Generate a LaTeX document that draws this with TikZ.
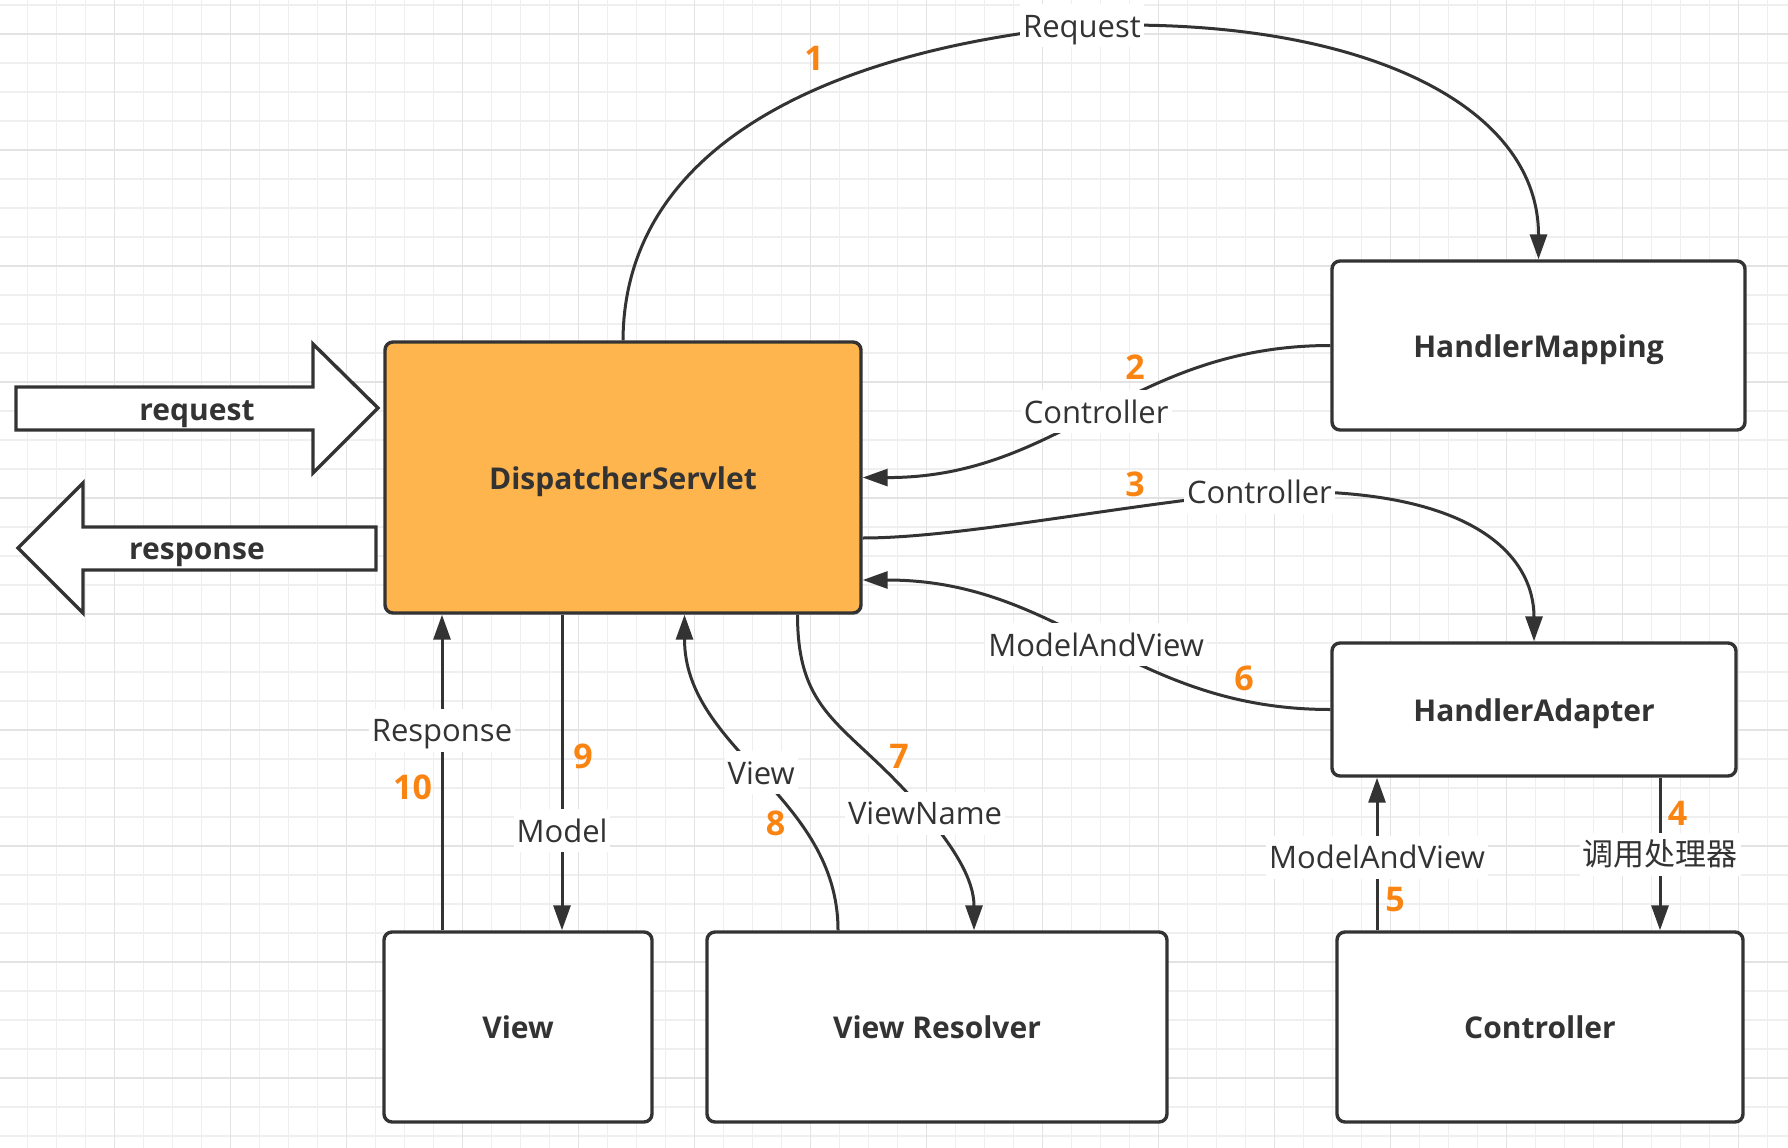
\documentclass[tikz,border=0pt]{standalone}
\usepackage{fontspec}
\setmainfont{Open Sans}
\newfontfamily\cjk{Noto Sans CJK SC}
\usetikzlibrary{arrows.meta,calc}
\definecolor{lc}{HTML}{333333}
\definecolor{dsfill}{HTML}{FEB54E}
\definecolor{numc}{HTML}{F98412}
\definecolor{gridl}{HTML}{EFEFEF}
\definecolor{gridd}{HTML}{E3E3E3}
\begin{document}
\begin{tikzpicture}[x=1pt,y=-1pt,
  box/.style={draw=lc, line width=3.4pt, rounded corners=8pt, fill=white, text=lc,
    font=\bfseries\fontsize{30}{30}\selectfont, inner sep=0pt, text height=23pt, text depth=0pt},
  conn/.style={draw=lc, line width=3pt},
  arr/.style={conn, -{Triangle[length=25pt,width=17pt]}},
  lbl/.style={fill=white, text=lc, inner xsep=3pt, inner ysep=10pt,
    font=\fontsize{31}{31}\selectfont, text height=23pt, text depth=0pt},
  num/.style={text=numc, font=\bfseries\fontsize{34}{34}\selectfont, inner sep=0pt,
    text height=24pt, text depth=0pt},
  bigarrow/.style={draw=lc, line width=3.4pt, fill=white, line join=miter},
  bigtext/.style={text=lc, font=\bfseries\fontsize{30}{30}\selectfont, inner sep=0pt,
    text height=23pt, text depth=0pt},
]
\useasboundingbox (0,0) rectangle (1788,1148);
\fill[white] (0,0) rectangle (1788,1148);
% grid
\foreach \i in {0,...,62} \draw[gridl, line width=1.2pt] ({-1.7+29*\i},0) -- ({-1.7+29*\i},1148);
\foreach \i in {0,...,39} \draw[gridl, line width=1.2pt] (0,{5+29*\i}) -- (1788,{5+29*\i});
\foreach \i in {0,...,15} \draw[gridd, line width=1.2pt] ({-1.7+116*\i},0) -- ({-1.7+116*\i},1148);
\foreach \i in {0,...,9} \draw[gridd, line width=1.2pt] (0,{34+116*\i}) -- (1788,{34+116*\i});

% boxes
\node[box, fill=dsfill, minimum width=476pt, minimum height=271pt] (ds) at (623,477.5) {DispatcherServlet};
\node[box, minimum width=413pt, minimum height=169pt] (hm) at (1538.5,345.5) {HandlerMapping};
\node[box, minimum width=404pt, minimum height=133pt] (ha) at (1534,709.5) {HandlerAdapter};
\node[box, minimum width=268pt, minimum height=190pt] (view) at (518,1027) {View};
\node[box, minimum width=460pt, minimum height=190pt] (vr) at (937,1027) {View Resolver};
\node[box, minimum width=406pt, minimum height=190pt] (ctrl) at (1540,1027) {Controller};

% block arrows
\draw[bigarrow] (16,387) -- (313,387) -- (313,344) -- (378,408) -- (313,473) -- (313,430) -- (16,430) -- cycle;
\node[bigtext] (reqtxt) at (197,408.5) {request};
\draw[bigarrow] (18,548) -- (83,483) -- (83,527) -- (376,527) -- (376,570) -- (83,570) -- (83,613) -- cycle;
\node[bigtext] (resptxt) at (197,547.5) {response};

% connectors
\draw[arr] (ds.north) .. controls (624,150) and (820,52) .. (1082,26) node[lbl] (l1) {Request}
  .. controls (1350,15) and (1538.5,100) .. (hm.north);
\draw[arr] (hm.west) .. controls (1130,345.5) and (1062,478) .. (ds.east) node[lbl,pos=0.5] (l2) {Controller};
\draw[arr] ($(ds.east)+(0,60.5)$) .. controls (960,538) and (1120,505) .. (1259.5,492) node[lbl] (l3) {Controller}
  .. controls (1480,484) and (1534,560) .. (ha.north);
\draw[arr] ($(ha.south)+(126,0)$) -- ($(ctrl.north)+(120,0)$) node[lbl,pos=0.5] (l4) {\cjk 调用处理器};
\draw[arr] ($(ctrl.north)+(-163,0)$) -- ($(ha.south)+(-157,0)$) node[lbl,pos=0.48] (l5) {ModelAndView};
\draw[arr] (ha.west) .. controls (1130,709.5) and (1062,580) .. ($(ds.east)+(0,102.5)$) node[lbl,pos=0.5] (l6) {ModelAndView};
\draw[arr] ($(ds.south)+(174.5,0)$) .. controls (797.5,720) and (850,723) .. (925,813) node[lbl] (l7) {ViewName}
  .. controls (955,849) and (974,880) .. ($(vr.north)+(37,0)$);
\draw[arr] ($(vr.north)+(-99,0)$) .. controls (838,796) and (684.5,750) .. ($(ds.south)+(61.5,0)$) node[lbl,pos=0.5] (l8) {View};
\draw[arr] ($(ds.south)+(-61,0)$) -- ($(view.north)+(44,0)$) node[lbl,pos=0.684] (l9) {Model};
\draw[arr] ($(view.north)+(-76,0)$) -- ($(ds.south)+(-181,0)$) node[lbl,pos=0.634] (l10) {Response};

% step numbers
\node[num] (n1) at (814,58.5) {1};
\node[num] (n2) at (1135,367.5) {2};
\node[num] (n3) at (1135,484) {3};
\node[num] (n4) at (1677.5,813) {4};
\node[num] (n5) at (1395,899) {5};
\node[num] (n6) at (1244,678.5) {6};
\node[num] (n7) at (899,756) {7};
\node[num] (n8) at (775.5,823) {8};
\node[num] (n9) at (583,756) {9};
\node[num] (n10) at (412.5,787.5) {10};
\end{tikzpicture}
\end{document}
